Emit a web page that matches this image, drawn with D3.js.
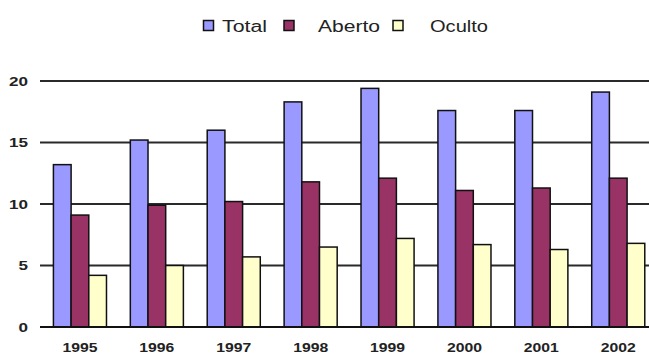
<!DOCTYPE html>
<html>
<head>
<meta charset="utf-8">
<script src="https://cdn.jsdelivr.net/npm/d3@7"></script>
<style>
  html, body { margin: 0; padding: 0; background: #fff; }
  svg { display: block; }
  text { font-family: "Liberation Sans", Arial, sans-serif; }
</style>
</head>
<body>
<svg id="chart" width="649" height="354"></svg>
<script>
// Annual values by year
const years = ["1995", "1996", "1997", "1998", "1999", "2000", "2001", "2002"];
const seriesNames = ["Total", "Aberto", "Oculto"];
const totalValues  = [13.2, 15.2, 16.0, 18.3, 19.4, 17.6, 17.6, 19.1];
const abertoValues = [9.1, 9.9, 10.2, 11.8, 12.1, 11.1, 11.3, 12.1];
const ocultoValues = [4.2, 5.0, 5.7, 6.5, 7.2, 6.7, 6.3, 6.8];
const yTicks = [0, 5, 10, 15, 20];
const seriesColors = ["#9999ff", "#993366", "#ffffcc"];

const valuesBySeries = [totalValues, abertoValues, ocultoValues];
const rows = years.map((yr, i) => ({
  year: yr,
  values: seriesNames.map((s, k) => ({ key: s, value: valuesBySeries[k][i] }))
}));

const svg = d3.select("#chart");

const x0 = d3.scaleBand()
  .domain(years)
  .range([41.5, 656.7])
  .paddingInner(0.31)
  .paddingOuter(0.155);

const x1 = d3.scaleBand()
  .domain(seriesNames)
  .range([0, x0.bandwidth()]);

const y = d3.scaleLinear().domain([0, 20]).range([327, 81]);

const color = d3.scaleOrdinal().domain(seriesNames).range(seriesColors);

// Horizontal gridlines
svg.append("g")
  .selectAll("line")
  .data(yTicks.filter(t => t > 0))
  .join("line")
  .attr("x1", 40).attr("x2", 649)
  .attr("y1", d => y(d)).attr("y2", d => y(d))
  .attr("stroke", "#2a2a2a")
  .attr("stroke-width", 1.8);

// Y tick labels
svg.append("g")
  .selectAll("text")
  .data(yTicks)
  .join("text")
  .attr("x", 28)
  .attr("y", d => y(d) + 4.5)
  .attr("text-anchor", "end")
  .attr("font-size", 12)
  .attr("font-weight", "bold")
  .attr("fill", "#222")
  .attr("textLength", d => String(d).length * 9.5)
  .attr("lengthAdjust", "spacingAndGlyphs")
  .text(d => d);

// Bars
const groups = svg.append("g")
  .selectAll("g")
  .data(rows)
  .join("g")
  .attr("transform", d => `translate(${x0(d.year)},0)`);

groups.selectAll("rect")
  .data(d => d.values)
  .join("rect")
  .attr("x", d => x1(d.key))
  .attr("width", x1.bandwidth())
  .attr("y", d => y(d.value))
  .attr("height", d => y(0) - y(d.value))
  .attr("fill", d => color(d.key))
  .attr("stroke", "#111")
  .attr("stroke-width", 1.5);

// Baseline
svg.append("line")
  .attr("x1", 40).attr("x2", 649)
  .attr("y1", y(0)).attr("y2", y(0))
  .attr("stroke", "#111")
  .attr("stroke-width", 2);

// Year labels
svg.append("g")
  .selectAll("text")
  .data(years)
  .join("text")
  .attr("x", d => x0(d) + x0.bandwidth() / 2)
  .attr("y", 352)
  .attr("text-anchor", "middle")
  .attr("font-size", 12)
  .attr("font-weight", "bold")
  .attr("fill", "#222")
  .attr("textLength", 35)
  .attr("lengthAdjust", "spacingAndGlyphs")
  .text(d => d);

// Legend
const legendItems = [
  { key: "Total",  sx: 203.5, tx: 222, tw: 45 },
  { key: "Aberto", sx: 284,   tx: 318, tw: 62 },
  { key: "Oculto", sx: 393,   tx: 430, tw: 58 }
];
const legend = svg.append("g");
legend.selectAll("rect")
  .data(legendItems)
  .join("rect")
  .attr("x", d => d.sx)
  .attr("y", 20.5)
  .attr("width", 10)
  .attr("height", 10)
  .attr("fill", d => color(d.key))
  .attr("stroke", "#111")
  .attr("stroke-width", 1.5);
legend.selectAll("text")
  .data(legendItems)
  .join("text")
  .attr("x", d => d.tx)
  .attr("y", 31.5)
  .attr("font-size", 16)
  .attr("fill", "#222")
  .attr("textLength", d => d.tw)
  .attr("lengthAdjust", "spacingAndGlyphs")
  .text(d => d.key);
</script>
</body>
</html>
